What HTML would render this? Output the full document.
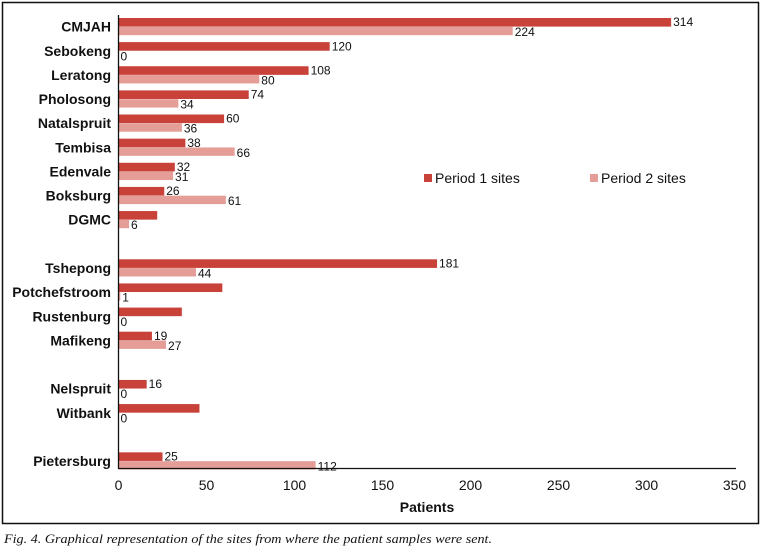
<!DOCTYPE html>
<html><head><meta charset="utf-8"><style>
body{margin:0;background:#fff;width:762px;height:550px;overflow:hidden}
svg{display:block}
text{font-family:"Liberation Sans",sans-serif;fill:#111}
</style></head><body>
<svg id="chart" width="762" height="550">
<rect x="2.5" y="2.5" width="756" height="521" fill="none" stroke="#111" stroke-width="1.5"/>
<g id="bars"></g>
<line x1="118.5" y1="15" x2="118.5" y2="469" stroke="#111" stroke-width="1.3"/>
<line x1="118" y1="468.5" x2="736" y2="468.5" stroke="#111" stroke-width="1.3"/>
<g id="ticks"></g>
<text x="427" y="512" font-size="14" font-weight="bold" text-anchor="middle">Patients</text>
<g>
<rect x="424" y="174" width="8" height="8" fill="#c8423a"/>
<text x="435" y="183" font-size="14">Period 1 sites</text>
<rect x="590" y="174" width="8" height="8" fill="#e59d97"/>
<text x="601" y="183" font-size="14">Period 2 sites</text>
</g>
<text x="4" y="543" font-size="12.5" font-style="italic" textLength="488" lengthAdjust="spacingAndGlyphs" style="font-family:'Liberation Serif',serif">Fig. 4. Graphical representation of the sites from where the patient samples were sent.</text>
</svg>
<script>
const categories=["CMJAH","Sebokeng","Leratong","Pholosong","Natalspruit","Tembisa","Edenvale","Boksburg","DGMC","","Tshepong","Potchefstroom","Rustenburg","Mafikeng","","Nelspruit","Witbank","","Pietersburg"];
const period1=[314,120,108,74,60,38,32,26,22,null,181,59,36,19,null,16,46,null,25];
const period2=[224,0,80,34,36,66,31,61,6,null,44,1,0,27,null,0,0,null,112];
const showLabel1=[true,true,true,true,true,true,true,true,false,null,true,false,false,true,null,true,false,null,true];
const showLabel2=[true,true,true,true,true,true,true,true,true,null,true,true,true,true,null,true,true,null,true];
const xTicks=[0,50,100,150,200,250,300,350];
const NS="http://www.w3.org/2000/svg";
const x=v=>118.5+v*(616/350);
const yC=i=>26.7+i*24.13;
const bars=document.getElementById('bars');
function mk(tag,a,p){const e=document.createElementNS(NS,tag);for(const k in a)e.setAttribute(k,a[k]);p.appendChild(e);return e;}
categories.forEach((c,i)=>{
 if(!c)return;
 const cy=yC(i);
 const t=mk('text',{x:111,y:cy+5,'font-size':14,'font-weight':'bold','text-anchor':'end'},bars);
 t.textContent=c;
 
 
 const b1=mk('rect',{x:x(0),y:cy-8.7,width:x(period1[i])-x(0),height:8.6,fill:'#c8423a'},bars);
 
 
 const b2=mk('rect',{x:x(0),y:cy+0.1,width:x(period2[i])-x(0),height:8.4,fill:'#e59d97'},bars);
 
 
 if(showLabel1[i]){const l=mk('text',{x:x(period1[i])+2,y:cy-0.5,'font-size':12},bars);l.textContent=period1[i];
  
  }
 if(showLabel2[i]){const l=mk('text',{x:x(period2[i])+2,y:cy+9.5,'font-size':12},bars);l.textContent=period2[i];
  
  }
});
const tg=document.getElementById('ticks');
xTicks.forEach(v=>{
 const t=mk('text',{x:x(v),y:490,'font-size':14,'text-anchor':'middle'},tg);
 t.textContent=v;
 
 
});
</script>
</body></html>
